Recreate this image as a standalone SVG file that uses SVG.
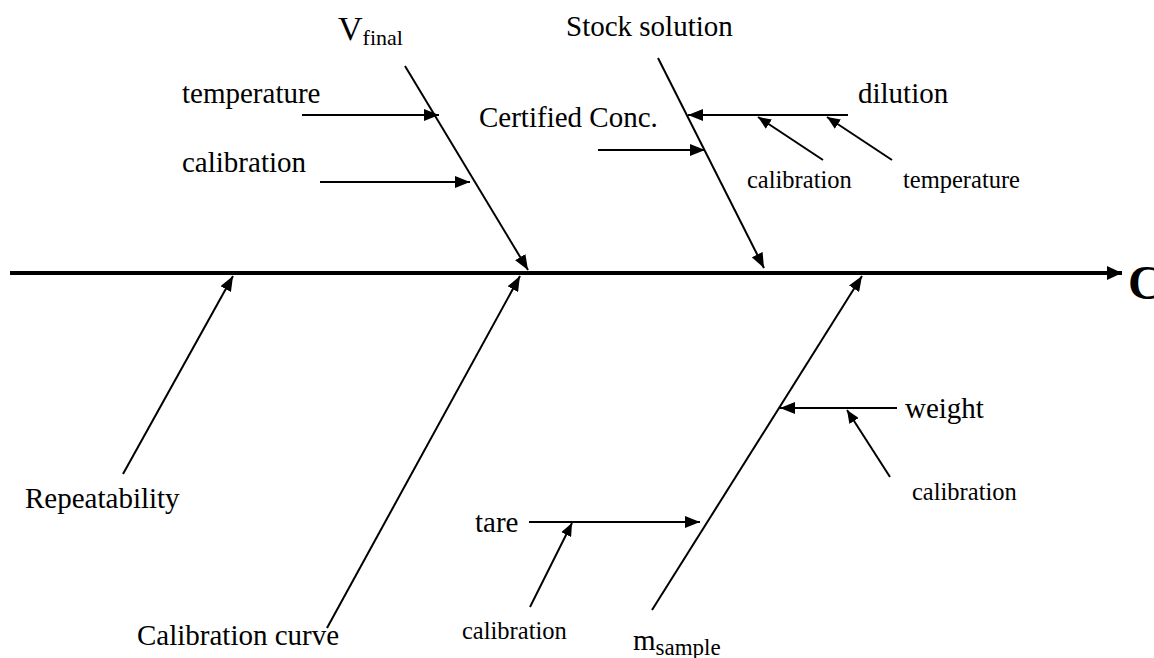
<svg xmlns="http://www.w3.org/2000/svg" width="1154" height="658" viewBox="0 0 1154 658">
<defs>
<style>
.lg{font-size:29px}
.sm{font-size:24.5px}
.sub{font-size:22px}
.ln{stroke:#000;stroke-width:2;fill:none}
.sp{stroke:#000;stroke-width:4;fill:none}
</style>
<marker id="ah" viewBox="0 0 15 12" refX="15" refY="6" markerWidth="15" markerHeight="12" markerUnits="userSpaceOnUse" orient="auto">
<path d="M0,0 L15,6 L0,12 Z" fill="#000"/>
</marker>
<marker id="ahs" viewBox="0 0 13 11" refX="13" refY="5.5" markerWidth="13" markerHeight="11" markerUnits="userSpaceOnUse" orient="auto">
<path d="M0,0 L13,5.5 L0,11 Z" fill="#000"/>
</marker>
<marker id="ahb" viewBox="0 0 15 14" refX="15" refY="7" markerWidth="15" markerHeight="14" markerUnits="userSpaceOnUse" orient="auto">
<path d="M0,0 L15,7 L0,14 Z" fill="#000"/>
</marker>
</defs>
<rect width="1154" height="658" fill="#fff"/>
<g id="connectors">
<line class="sp" x1="10" y1="273" x2="1122" y2="273" marker-end="url(#ahb)"/>
<line class="ln" x1="405" y1="66" x2="528" y2="270" marker-end="url(#ah)"/>
<line class="ln" x1="302" y1="115" x2="439" y2="115" marker-end="url(#ah)"/>
<line class="ln" x1="320" y1="182" x2="470" y2="182" marker-end="url(#ah)"/>
<line class="ln" x1="658" y1="58" x2="764" y2="268" marker-end="url(#ah)"/>
<line class="ln" x1="598" y1="150" x2="705" y2="150" marker-end="url(#ah)"/>
<line class="ln" x1="848" y1="115" x2="688" y2="115" marker-end="url(#ah)"/>
<line class="ln" x1="823" y1="160" x2="758" y2="117" marker-end="url(#ahs)"/>
<line class="ln" x1="892" y1="160" x2="827" y2="117" marker-end="url(#ahs)"/>
<line class="ln" x1="123" y1="474" x2="233" y2="276" marker-end="url(#ah)"/>
<line class="ln" x1="327" y1="628" x2="520" y2="276" marker-end="url(#ah)"/>
<line class="ln" x1="652" y1="610" x2="862" y2="276" marker-end="url(#ah)"/>
<line class="ln" x1="529" y1="522" x2="700" y2="522" marker-end="url(#ah)"/>
<line class="ln" x1="530" y1="607" x2="572" y2="523" marker-end="url(#ahs)"/>
<line class="ln" x1="897" y1="408" x2="780" y2="408" marker-end="url(#ah)"/>
<line class="ln" x1="890" y1="477" x2="847" y2="410" marker-end="url(#ahs)"/>
</g>
<g font-family="'Liberation Serif', 'Times New Roman', serif" fill="#000">
<g id="node-C"><text x="1128" y="299" font-size="48" font-weight="bold">C</text></g>
<g id="node-Vfinal"><text x="338" y="40" font-size="34">V<tspan class="sub" dy="5">final</tspan></text></g>
<g id="node-temperature1"><text class="lg" x="182" y="103">temperature</text></g>
<g id="node-calibration1"><text class="lg" x="182" y="172">calibration</text></g>
<g id="node-stock"><text class="lg" x="566" y="36">Stock solution</text></g>
<g id="node-certified"><text class="lg" x="479" y="127">Certified Conc.</text></g>
<g id="node-dilution"><text class="lg" x="858" y="103">dilution</text></g>
<g id="node-calibration2"><text class="sm" x="747" y="188">calibration</text></g>
<g id="node-temperature2"><text class="sm" x="903" y="188">temperature</text></g>
<g id="node-repeatability"><text class="lg" x="25" y="508">Repeatability</text></g>
<g id="node-calcurve"><text class="lg" x="137" y="645">Calibration curve</text></g>
<g id="node-tare"><text class="lg" x="475" y="532">tare</text></g>
<g id="node-calibration3"><text class="sm" x="462" y="639">calibration</text></g>
<g id="node-msample"><text class="lg" x="633" y="650">m<tspan font-size="23" dy="5">sample</tspan></text></g>
<g id="node-weight"><text class="lg" x="905" y="418">weight</text></g>
<g id="node-calibration4"><text class="sm" x="912" y="500">calibration</text></g>
</g>
</svg>
